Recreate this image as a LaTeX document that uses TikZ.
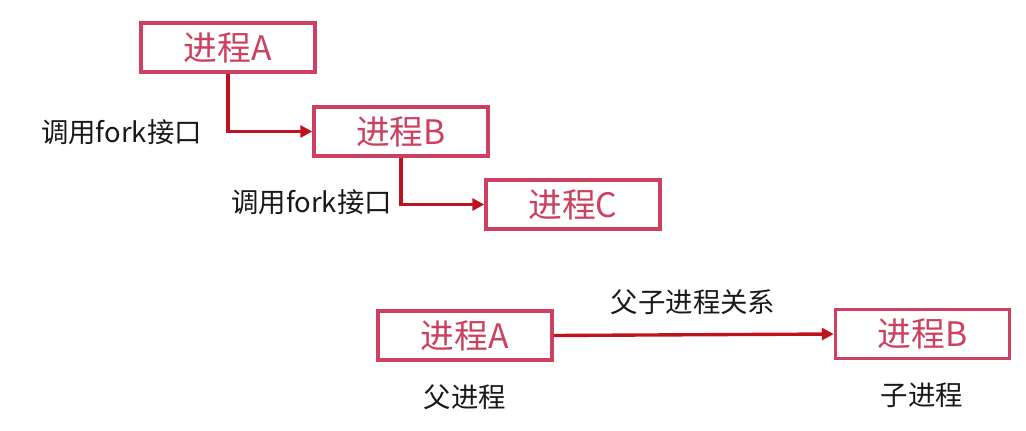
\documentclass[tikz,border=0pt]{standalone}
\usepackage{fontspec}
\setmainfont{Noto Sans CJK SC}
\usetikzlibrary{calc,positioning,arrows.meta}
\definecolor{procc}{RGB}{204,64,96}
\definecolor{linkc}{RGB}{192,18,30}
\definecolor{textc}{RGB}{25,25,25}
\tikzset{
  proc/.style={rectangle,draw=procc,line width=2.4pt,fill=white,minimum width=4.35cm,minimum height=1.225cm,inner sep=0pt,text=procc,font=\fontsize{24}{27}\selectfont},
  link/.style={-{Triangle[length=3mm,width=3mm]},line width=2.4pt,linkc},
  lbl/.style={text=textc,inner sep=0pt,font=\fontsize{19.5}{23}\selectfont},
}
\begin{document}
\begin{tikzpicture}[x=0.025cm,y=-0.025cm]
  \useasboundingbox (0,0) rectangle (1026,431);
  % fork chain
  \node[proc](pA) at (228,47.5){进程A};
  \node[proc](pB) at (401,131.5){进程B};
  \node[proc](pC) at (573,204.5){进程C};
  \draw[link] (pA.south) |- (pB.west);
  \draw[link] (pB.south) |- (pC.west);
  \node[lbl](call1) at (121.5,132){调用fork接口};
  \node[lbl](call2) at (311.5,202){调用fork接口};
  % parent and child
  \node[proc](qA) at (465,335.5){进程A};
  \node[proc](qB) at (922.5,334){进程B};
  \draw[link] (qA.east) -- (qB.west);
  \node[lbl](rel) at (693,302){父子进程关系};
  \node[lbl](par) at (465,397){父进程};
  \node[lbl](chd) at (922,395){子进程};
\end{tikzpicture}
\end{document}
